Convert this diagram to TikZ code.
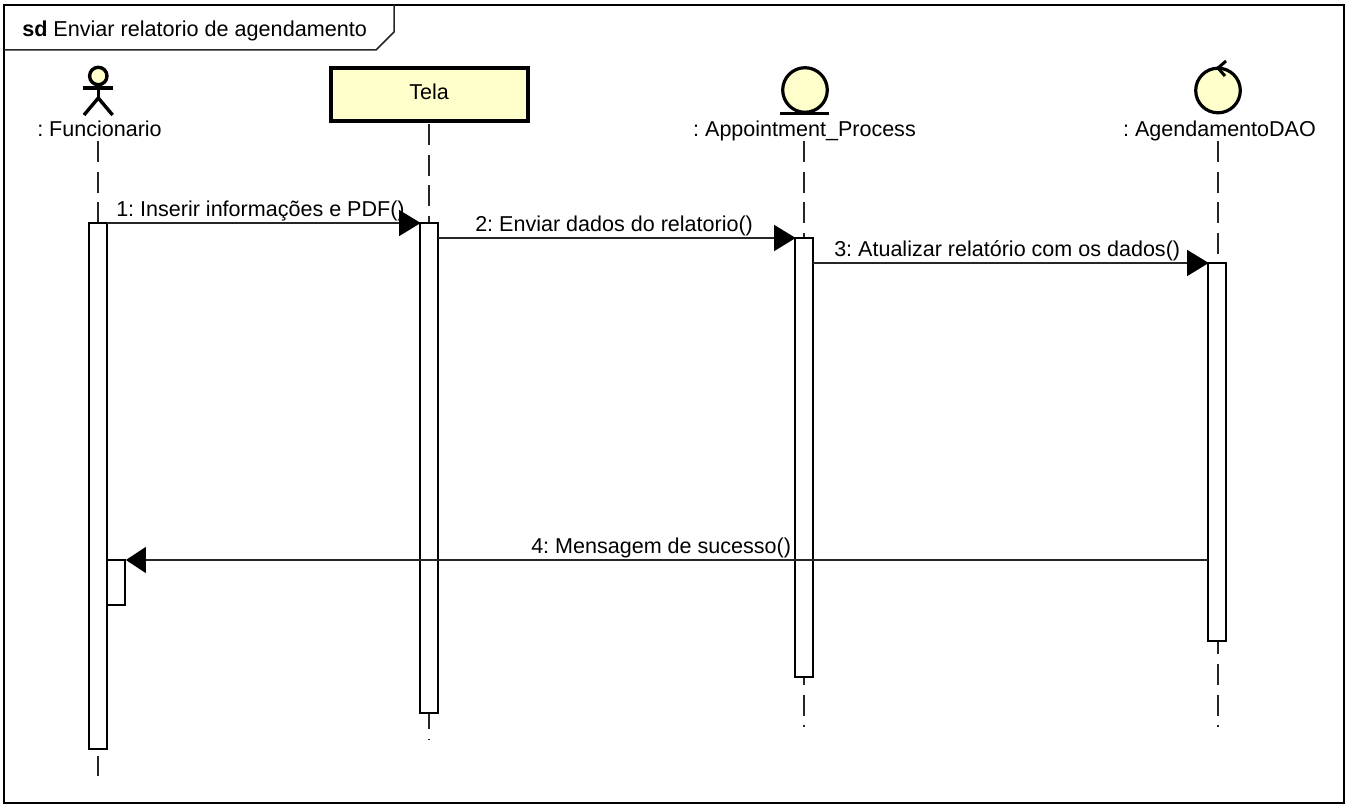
\documentclass[tikz,border=0pt]{standalone}
\usepackage{fontspec}
\setmainfont{Liberation Sans}
\usetikzlibrary{arrows.meta,calc}
\newlength{\pxu}\setlength{\pxu}{0.75pt}
\definecolor{umlfill}{HTML}{FFFFCC}
\tikzset{
  frame/.style={line width=2*\pxu,draw=black},
  tabline/.style={line width=1.5*\pxu,draw=black!85},
  lifeline/.style={line width=1.5*\pxu,draw=black!85,dash pattern=on 21*\pxu off 9.75*\pxu},
  act/.style={draw=black,fill=white,line width=2*\pxu,minimum width=18*\pxu,inner sep=0pt,outer sep=0pt,anchor=north},
  selfact/.style={draw=black,fill=white,line width=2*\pxu,minimum width=18*\pxu,inner sep=0pt,outer sep=0pt,anchor=north west},
  msg/.style={line width=1.6*\pxu,draw=black!85,shorten >=-0.5pt,-{Triangle[length=16.2pt,width=19.5pt,fill=black,color=black]}},
  retmsg/.style={msg,shorten >=0.7pt,-{Triangle[length=15pt,width=19.5pt,fill=black,color=black]}},
  lab/.style={font=\fontsize{16.15}{19}\selectfont,inner sep=0pt,anchor=base},
  msglab/.style={font=\fontsize{16.15}{19}\selectfont,inner sep=0pt,anchor=base west},
  titlelab/.style={font=\fontsize{16.2}{19}\selectfont,inner sep=0pt,anchor=base west},
  boxobj/.style={draw=black,fill=umlfill,line width=4*\pxu,minimum width=197*\pxu,minimum height=53*\pxu,inner sep=0pt,outer sep=0pt},
  icon/.style={draw=black,fill=umlfill,line width=3.2*\pxu},
  stick/.style={line width=3.4*\pxu,draw=black},
}
\begin{document}
\frenchspacing
\begin{tikzpicture}[x=0.75pt,y=-0.75pt]
\useasboundingbox (0,0) rectangle (1350,809);
\fill[white] (0,0) rectangle (1350,809);
% frame
\draw[frame] (4,5) rectangle (1344,803);
\draw[tabline] (4,50) -- (376,50) -- (394,32) -- (394,5);
\node[titlelab] (title) at (22,37) {\textbf{sd} Enviar relatorio de agendamento};
% lifelines
\coordinate (ll1top) at (98,141); \coordinate (ll1bot) at (98,776);
\coordinate (ll2top) at (429,124); \coordinate (ll2bot) at (429,740);
\coordinate (ll3top) at (804,141); \coordinate (ll3bot) at (804,727);
\coordinate (ll4top) at (1218,141); \coordinate (ll4bot) at (1218,727);
\draw[lifeline] (ll1top) -- (ll1bot);
\draw[lifeline] (ll2top) -- (ll2bot);
\draw[lifeline] (ll3top) -- (ll3bot);
\draw[lifeline] (ll4top) -- (ll4bot);
% actor
\draw[icon,line width=3.4*\pxu] (98.3,76) circle (8.7);
\draw[stick] (83,88) -- (113,88);
\draw[stick] (98.3,85) -- (98.3,98);
\draw[stick] (84,115) -- (98.3,98) -- (112.6,115);
\node[lab] (n1) at (99.5,136.5) {: Funcionario};
% box
\node[boxobj] (n2) at (429,95) {};
\node[lab] (n2t) at (429,99.5) {Tela};
% boundary
\draw[icon] (805,90) circle (22.3);
\draw[line width=3.2*\pxu] (780,113.5) -- (829,113.5);
\node[lab] (n3) at (804.5,136.5) {: Appointment\_Process};
% control
\draw[icon] (1218,90.5) circle (22.3);
\draw[line width=3*\pxu] (1226,61) -- (1218,68) -- (1225,76);
\node[lab] (n4) at (1219.5,136.5) {: AgendamentoDAO};
% activations
\node[act,minimum height=526*\pxu] (a1) at (98,223) {};
\node[act,minimum height=490*\pxu] (a2) at (429,223) {};
\node[act,minimum height=439*\pxu] (a3) at (804,238) {};
\node[act,minimum height=378*\pxu] (a4) at (1217,263) {};
\node[selfact,minimum height=45*\pxu] (a5) at (107,560) {};
% messages
\draw[msg] (a1.north east) -- (a2.north west);
\draw[msg] (a2.east |- a3.north) -- (a3.north west);
\draw[msg] (a3.east |- a4.north) -- (a4.north west);
\draw[retmsg] (a4.west |- a5.north) -- (a5.north east);
\node[msglab] (l1) at (116,216.5) {1: Inserir informações e PDF()};
\node[msglab] (l2) at (475,231.5) {2: Enviar dados do relatorio()};
\node[msglab] (l3) at (834,256.5) {3: Atualizar relatório com os dados()};
\node[msglab] (l4) at (531,553.5) {4: Mensagem de sucesso()};
\end{tikzpicture}
\end{document}
